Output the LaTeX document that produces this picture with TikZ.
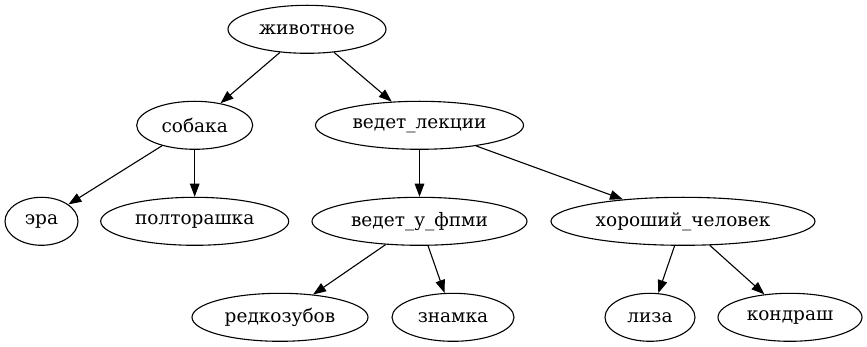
\documentclass[tikz,border=0pt]{standalone}
\usepackage{fontspec}
\setmainfont{DejaVu Serif}
\usetikzlibrary{shapes.geometric,arrows.meta}
\begin{document}
\begin{tikzpicture}[x=1pt,y=-1pt,
  vert/.style={draw, ellipse, line width=1.1pt, inner sep=0pt,
    minimum height=48pt, font=\fontsize{18.5}{20}\selectfont},
  link/.style={draw, line width=1.1pt, -{Triangle[length=13pt,width=9.5pt]}}]
\useasboundingbox (0,0) rectangle (867,347);

% rank 0
\node[vert, minimum width=158] (zhivotnoe) at (307,29.3) {животное};
% rank 1
\node[vert, minimum width=116] (sobaka) at (194.7,125.3) {собака};
\node[vert, minimum width=208] (lekcii) at (419.5,125.3) {ведет\_лекции};
% rank 2
\node[vert, minimum width=73] (era) at (41.5,221.3) {эра};
\node[vert, minimum width=188] (poltorashka) at (194.7,221.3) {полторашка};
\node[vert, minimum width=215] (fpmi) at (419.5,221.3) {ведет\_у\_фпми};
\node[vert, minimum width=264] (chelovek) at (683,221.3) {хороший\_человек};
% rank 3
\node[vert, minimum width=176] (redkozubov) at (280,317.3) {редкозубов};
\node[vert, minimum width=122] (znamka) at (453,317.3) {знамка};
\node[vert, minimum width=90] (liza) at (650,317.3) {лиза};
\node[vert, minimum width=144] (kondrash) at (790,317.3) {кондраш};

% edges
\draw[link] (zhivotnoe) -- (sobaka);
\draw[link] (zhivotnoe) -- (lekcii);
\draw[link] (sobaka) -- (era);
\draw[link] (sobaka) -- (poltorashka);
\draw[link] (lekcii) -- (fpmi);
\draw[link] (lekcii) -- (chelovek);
\draw[link] (fpmi) -- (redkozubov);
\draw[link] (fpmi) -- (znamka);
\draw[link] (chelovek) -- (liza);
\draw[link] (chelovek) -- (kondrash);
\end{tikzpicture}
\end{document}
